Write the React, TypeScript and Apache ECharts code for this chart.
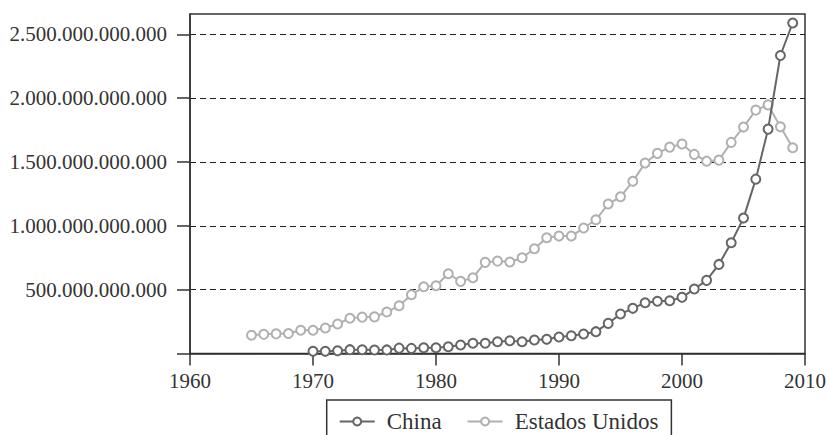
import React, { useEffect, useRef } from "react";
import * as echarts from "echarts";

const chinaYears: number[] = [
  1970, 1971, 1972, 1973, 1974, 1975, 1976, 1977, 1978, 1979,
  1980, 1981, 1982, 1983, 1984, 1985, 1986, 1987, 1988, 1989,
  1990, 1991, 1992, 1993, 1994, 1995, 1996, 1997, 1998, 1999,
  2000, 2001, 2002, 2003, 2004, 2005, 2006, 2007, 2008, 2009,
];
// billions
const chinaValues: number[] = [
  17, 17, 21, 30, 29, 27, 28, 42, 40, 45,
  45, 53, 67, 80, 80, 92, 100, 92, 106, 111,
  129, 139, 153, 171, 236, 309, 354, 398, 409, 413,
  440, 505, 573, 698, 868, 1061, 1366, 1758, 2335, 2590,
];

const usYears: number[] = [
  1965, 1966, 1967, 1968, 1969,
  1970, 1971, 1972, 1973, 1974, 1975, 1976, 1977, 1978, 1979,
  1980, 1981, 1982, 1983, 1984, 1985, 1986, 1987, 1988, 1989,
  1990, 1991, 1992, 1993, 1994, 1995, 1996, 1997, 1998, 1999,
  2000, 2001, 2002, 2003, 2004, 2005, 2006, 2007, 2008, 2009,
];
// billions
const usValues: number[] = [
  143, 150, 154, 157, 182,
  182, 200, 231, 276, 285, 287, 325, 374, 460, 523,
  531, 625, 565, 594, 714, 724, 717, 750, 821, 907,
  920, 920, 983, 1048, 1171, 1228, 1349, 1492, 1568, 1617,
  1641, 1560, 1507, 1515, 1654, 1774, 1907, 1948, 1776, 1612,
];

const yTicks: number[] = [0, 5e11, 1e12, 1.5e12, 2e12, 2.5e12];
const xTicks: number[] = [1960, 1970, 1980, 1990, 2000, 2010];
const seriesNames: string[] = ["China", "Estados Unidos"];

const fmtDots = (v: number) =>
  Math.round(v).toString().replace(/\B(?=(\d{3})+(?!\d))/g, ".");

const FONT = "'Liberation Serif', 'DejaVu Serif', serif";

export default function App() {
  const ref = useRef<HTMLDivElement>(null);
  useEffect(() => {
    if (!ref.current) return;
    const chart = echarts.init(ref.current, undefined, { renderer: "svg" });
    const china = chinaYears.map((y, i) => [y, chinaValues[i] * 1e9]);
    const us = usYears.map((y, i) => [y, usValues[i] * 1e9]);
    chart.setOption({
      animation: false,
      textStyle: { fontFamily: FONT },
      grid: {
        left: 190,
        right: 22.3,
        top: 14,
        bottom: 81.5,
        show: true,
        borderColor: "#333",
        borderWidth: 1.5,
        backgroundColor: "transparent",
      },
      legend: {
        data: seriesNames,
        left: 326.7,
        top: 400,
        orient: "horizontal",
        borderColor: "#333",
        borderWidth: 1.5,
        padding: [10, 13, 30, 12],
        itemWidth: 35,
        itemHeight: 10,
        itemGap: 25,
        textStyle: {
          fontFamily: FONT,
          fontSize: 23,
          color: "#333",
          padding: [0, 0, 0, 7],
        },
      },
      xAxis: {
        type: "value",
        min: 1960,
        max: 2010,
        interval: 10,
        axisLine: { show: true, lineStyle: { color: "#333", width: 1.5 } },
        axisTick: {
          show: true,
          inside: false,
          length: 12,
          lineStyle: { color: "#333", width: 1.5 },
          customValues: xTicks,
        },
        axisLabel: {
          customValues: xTicks,
          formatter: (v: number) => String(v),
          fontFamily: FONT,
          fontSize: 21,
          color: "#333",
          margin: 17,
        },
        splitLine: { show: false },
      },
      yAxis: {
        type: "value",
        min: 0,
        max: 2.66e12,
        axisLine: { show: true, lineStyle: { color: "#333", width: 1.5 } },
        axisTick: {
          show: true,
          inside: false,
          length: 13,
          lineStyle: { color: "#333", width: 1.5 },
          customValues: yTicks,
        },
        axisLabel: {
          customValues: yTicks,
          formatter: (v: number) => (v === 0 ? "" : fmtDots(v)),
          fontFamily: FONT,
          fontSize: 21,
          color: "#333",
          margin: 23,
        },
        splitLine: {
          show: true,
          lineStyle: { color: "#222", type: [6, 4], width: 1 },
        },
      },
      series: [
        {
          name: seriesNames[0],
          type: "line",
          data: china,
          symbol: "circle",
          symbolSize: 9,
          showAllSymbol: true,
          lineStyle: { color: "#666", width: 2 },
          itemStyle: { color: "#fff", borderColor: "#666", borderWidth: 2 },
          z: 3,
        },
        {
          name: seriesNames[1],
          type: "line",
          data: us,
          symbol: "circle",
          symbolSize: 9,
          showAllSymbol: true,
          lineStyle: { color: "#b0b0b0", width: 2 },
          itemStyle: { color: "#fff", borderColor: "#b0b0b0", borderWidth: 2 },
          z: 2,
        },
      ],
    });
    return () => chart.dispose();
  }, []);
  return (
    <div
      ref={ref}
      style={{ position: "fixed", left: 0, top: 0, width: 829, height: 435, background: "#fff" }}
    />
  );
}
